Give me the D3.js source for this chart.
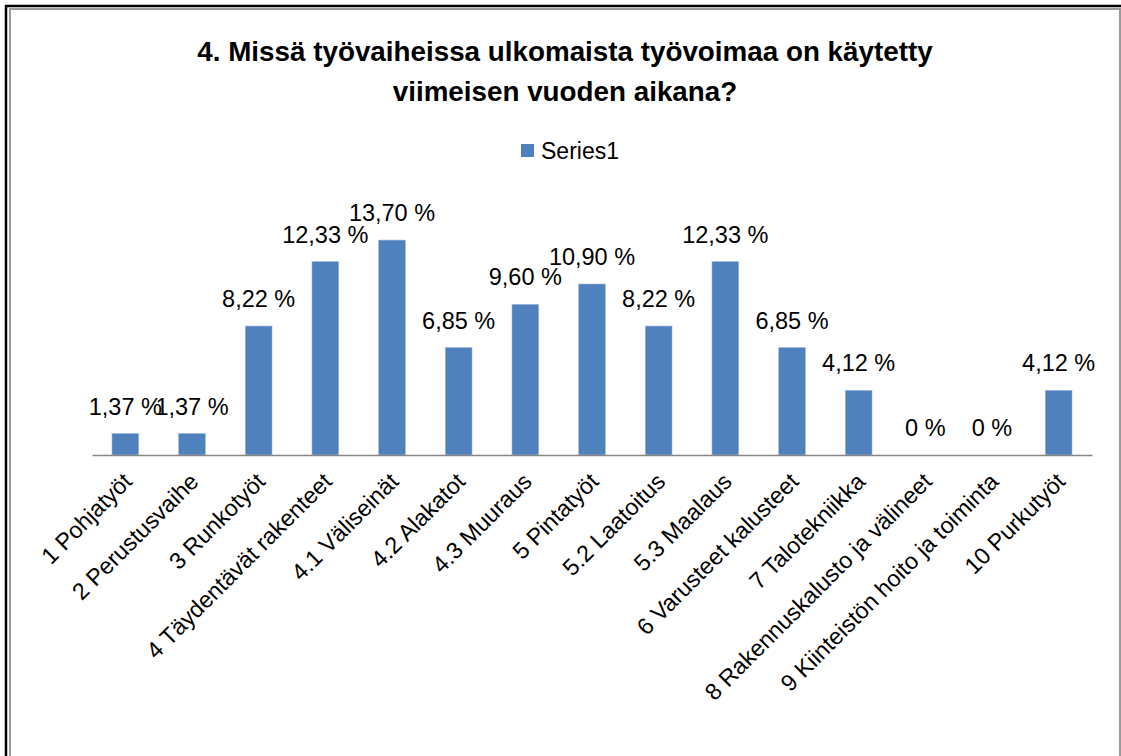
<!DOCTYPE html>
<html>
<head>
<meta charset="utf-8">
<script src="https://cdn.jsdelivr.net/npm/d3@7"></script>
<style>
  body { margin: 0; background: #fff; }
  text { font-family: "Liberation Sans", Arial, sans-serif; fill: #000; }
</style>
</head>
<body>
<script>
// chart data
var categories = [
  "1 Pohjatyöt", "2 Perustusvaihe", "3 Runkotyöt", "4 Täydentävät rakenteet",
  "4.1 Väliseinät", "4.2 Alakatot", "4.3 Muuraus", "5 Pintatyöt",
  "5.2 Laatoitus", "5.3 Maalaus", "6 Varusteet kalusteet", "7 Talotekniikka",
  "8 Rakennuskalusto ja välineet", "9 Kiinteistön hoito ja toiminta", "10 Purkutyöt"
];
var values = [1.37, 1.37, 8.22, 12.33, 13.70, 6.85, 9.60, 10.90, 8.22, 12.33, 6.85, 4.12, 0, 0, 4.12];
var valueLabels = ["1,37 %", "1,37 %", "8,22 %", "12,33 %", "13,70 %", "6,85 %", "9,60 %", "10,90 %",
  "8,22 %", "12,33 %", "6,85 %", "4,12 %", "0 %", "0 %", "4,12 %"];
var titleLines = ["4. Missä työvaiheissa ulkomaista työvoimaa on käytetty", "viimeisen vuoden aikana?"];
var seriesName = "Series1";

var width = 1121, height = 756;
var barColor = "#4f81bd";

var svg = d3.select("body").append("svg")
  .attr("width", width)
  .attr("height", height);

// frame
svg.append("rect")
  .attr("x", 10).attr("y", 9)
  .attr("width", 1110).attr("height", 800)
  .attr("fill", "none").attr("stroke", "#9a9a9a").attr("stroke-width", 2);
svg.append("line")
  .attr("x1", 5).attr("x2", width).attr("y1", 6).attr("y2", 6)
  .attr("stroke", "#000").attr("stroke-width", 2.5);
svg.append("line")
  .attr("x1", 6).attr("x2", 6).attr("y1", 5).attr("y2", height)
  .attr("stroke", "#000").attr("stroke-width", 2.5);

// title
svg.append("g").selectAll("text")
  .data(titleLines)
  .enter().append("text")
    .attr("x", 565)
    .attr("y", function(d, i) { return 61 + i * 40; })
    .attr("text-anchor", "middle")
    .style("font-size", "27.8px")
    .style("font-weight", "bold")
    .text(function(d) { return d; });

// legend
var legend = svg.append("g").attr("transform", "translate(521, 144)");
legend.append("rect")
  .attr("width", 13).attr("height", 13)
  .attr("fill", barColor);
legend.append("text")
  .attr("x", 20).attr("y", 14.5)
  .style("font-size", "23px")
  .text(seriesName);

// scales
var plot = { left: 92, right: 1092, top: 204, bottom: 455 };

var x = d3.scaleBand()
  .domain(categories)
  .range([plot.left, plot.right])
  .paddingInner(0.6)
  .paddingOuter(0.3);

var y = d3.scaleLinear()
  .domain([0, 16])
  .range([plot.bottom, plot.top]);

// bars
svg.append("g").selectAll("rect")
  .data(values)
  .enter().append("rect")
    .attr("x", function(d, i) { return x(categories[i]); })
    .attr("y", function(d) { return y(d); })
    .attr("width", x.bandwidth())
    .attr("height", function(d) { return y(0) - y(d); })
    .attr("fill", barColor)
    .attr("stroke", "#9db6da")
    .attr("stroke-width", 0.6);

// data labels
svg.append("g").selectAll("text")
  .data(values)
  .enter().append("text")
    .attr("x", function(d, i) { return x(categories[i]) + x.bandwidth() / 2; })
    .attr("y", function(d) { return y(d) - 19; })
    .attr("text-anchor", "middle")
    .style("font-size", "23.5px")
    .text(function(d, i) { return valueLabels[i]; });

// x axis
var xAxis = svg.append("g")
  .attr("transform", "translate(0," + plot.bottom + ")")
  .call(d3.axisBottom(x).tickSize(0).tickPadding(0));

xAxis.select(".domain")
  .attr("stroke", "#868686")
  .attr("stroke-width", 1.5);

xAxis.selectAll(".tick text")
  .attr("y", 0)
  .attr("dy", 0)
  .attr("text-anchor", "end")
  .attr("transform", "translate(8,28) rotate(-45)")
  .style("font-size", "23.3px")
  .style("font-family", "Liberation Sans, Arial, sans-serif")
  .attr("fill", "#000");
</script>
</body>
</html>
